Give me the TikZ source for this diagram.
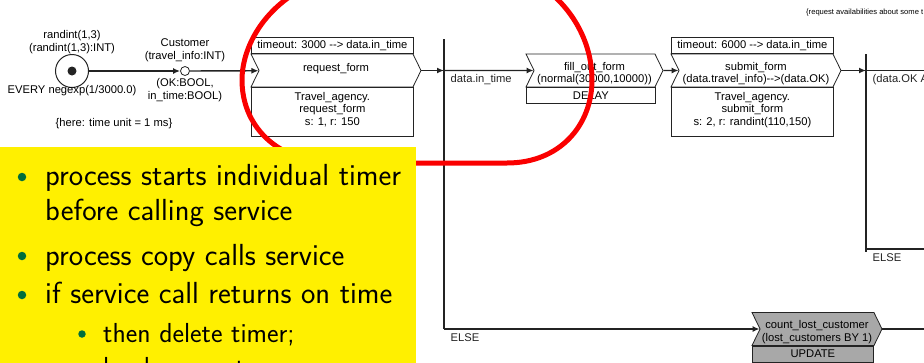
\documentclass[tikz,border=0pt]{standalone}
\usepackage{fontspec}
\newfontfamily\diagfont{Liberation Sans}
\usetikzlibrary{shapes.symbols, arrows.meta, positioning, calc}
\definecolor{mydark}{RGB}{35,35,35}
\definecolor{myred}{RGB}{250,0,0}
\definecolor{myyellow}{RGB}{255,240,0}
\definecolor{mygreen}{RGB}{0,110,60}
\definecolor{mygray}{RGB}{168,168,168}
\newcommand{\topstrut}{\rule{0pt}{14pt}}
\newcommand{\botstrut}{\rule[-6pt]{0pt}{6pt}}
\tikzset{
  lbl/.style={font=\diagfont\fontsize{11.2}{12.5}\selectfont, align=center, inner sep=0pt},
  belowlbl/.style={lbl, anchor=west, pos=0, xshift=6pt, yshift=-9pt},
  chevron/.style={signal, signal from=west, signal to=east, signal pointer angle=128,
    draw=mydark, fill=white, line width=0.8pt, minimum height=33pt, inner sep=0pt, lbl},
  tagbox/.style={rectangle, draw=mydark, fill=white, line width=0.8pt,
    minimum height=16pt, inner sep=0pt, lbl},
  startnode/.style={circle, draw=mydark, fill=white, line width=1pt, minimum size=33pt, inner sep=0pt},
  custnode/.style={circle, draw=mydark, fill=white, line width=0.8pt, minimum size=9pt, inner sep=0pt},
  arrow/.style={-{Latex[length=7pt, width=6pt]}, line width=1.4pt, color=mydark},
  line/.style={line width=1.4pt, color=mydark},
  bar/.style={line width=1.8pt, color=mydark},
  bulletdot/.style={circle, fill=mygreen, inner sep=0pt, minimum size=8.5pt},
  itemtxt/.style={font=\sffamily\fontsize{30.5}{36}\selectfont, anchor=base west, inner sep=0pt},
  subtxt/.style={itemtxt, font=\sffamily\fontsize{27.5}{33}\selectfont}
}
\begin{document}
\begin{tikzpicture}[x=1pt, y=-1pt]
  \useasboundingbox (0,0) rectangle (924,362);
  \clip (0,0) rectangle (924,362);

  % start event and customer
  \node[startnode] (startev) at (72,71) {};
  \fill[mydark] (startev.center) circle (4.5);
  \node[lbl] (startin) at (72,42) {randint(1,3)\\(randint(1,3):INT)};
  \node[lbl] (startevery) at (72,91) {EVERY negexp(1/3000.0)};
  \node[lbl] (unitnote) at (114,124) {\{here: time unit = 1 ms\}};
  \node[custnode] (cust) at (185,71) {};
  \node[lbl] (custin) at (185,50) {Customer\\(travel\_info:INT)};
  \node[lbl] (custout) at (185,90) {(OK:BOOL,\\in\_time:BOOL)};

  % request form
  \node[chevron, minimum width=170pt] (reqform) at (336,70.5) {\topstrut request\_form\\\mbox{}};
  \node[tagbox, minimum width=162pt, anchor=south west] (reqtimeout) at (251,54) {timeout: 3000 -{}-> data.in\_time};
  \node[tagbox, minimum width=162pt, minimum height=49pt, anchor=north west] (reqagency) at (251,87) {Travel\_agency.\\request\_form\\s: 1, r: 150\botstrut};

  % fill out form
  \node[chevron, minimum width=137pt] (fillform) at (594.5,70.5) {\topstrut fill\_out\_form\\(normal(30000,10000))};
  \node[tagbox, minimum width=129pt, anchor=north west] (delay) at (526,87) {DELAY};

  % submit form
  \node[chevron, minimum width=170pt] (subform) at (756,70.5) {\topstrut submit\_form\\(data.travel\_info)-{}->(data.OK)};
  \node[tagbox, minimum width=162pt, anchor=south west] (subtimeout) at (671,54) {timeout: 6000 -{}-> data.in\_time};
  \node[tagbox, minimum width=162pt, minimum height=49pt, anchor=north west] (subagency) at (671,87) {Travel\_agency.\\submit\_form\\s: 2, r: randint(110,150)\botstrut};

  % lost customers
  \node[chevron, fill=mygray, minimum width=130pt] (lost) at (817,329) {\topstrut count\_lost\_customer\\(lost\_customers BY 1)};
  \node[tagbox, fill=mygray, minimum width=121pt, anchor=north west] (update) at (752,345.5) {UPDATE};

  \node[lbl, anchor=west, font=\diagfont\fontsize{7.6}{9}\selectfont] (availnote) at (806,13) {\{request availabilities about some t};

  % branches
  \coordinate (branchatop) at (444,39);
  \coordinate (branchabot) at (444,329);
  \coordinate (branchbtop) at (866,54);
  \coordinate (branchbbot) at (866,252);
  \coordinate (okend) at (930,70.5);
  \coordinate (elseend) at (930,249);
  \coordinate (lostend) at (930,329);

  % Connections
  \draw[arrow] (startev) -- (cust);
  \draw[arrow] (cust) -- (reqform);
  \draw[bar] (branchatop) -- (branchabot);
  \draw[arrow] (reqform) -- (reqform -| branchatop);
  \draw[arrow] (reqform -| branchatop) -- node[belowlbl] {data.in\_time} (fillform);
  \draw[arrow] (fillform) -- (subform);
  \draw[bar] (branchbtop) -- (branchbbot);
  \draw[arrow] (subform) -- (subform -| branchbtop);
  \draw[line] (subform -| branchbtop) -- node[belowlbl] {(data.OK A} (okend);
  \draw[line] (branchbbot |- elseend) -- node[belowlbl] {ELSE} (elseend);
  \draw[arrow] (branchabot) -- node[belowlbl] {ELSE} (lost);
  \draw[line] (lost) -- (lostend);

  % red loop
  \draw[myred, line width=5pt] (322,-20) .. controls (267,0) and (242,45) .. (242,80)
    .. controls (242,125) and (275,160) .. (330,163) -- (507,163)
    .. controls (560,163) and (592,125) .. (592,80)
    .. controls (592,40) and (570,5) .. (540,-15);

  % yellow note
  \fill[myyellow] (0,147) rectangle (416,370);
  \node[bulletdot] (dota) at (22,177) {};
  \node[itemtxt] (itema) at (45,185) {process starts individual timer};
  \node[itemtxt] (itemb) at (45,220) {before calling service};
  \node[bulletdot] (dotb) at (22,256) {};
  \node[itemtxt] (itemc) at (45,265) {process copy calls service};
  \node[bulletdot] (dotc) at (22,295) {};
  \node[itemtxt] (itemd) at (45,303) {if service call returns on time};
  \node[bulletdot, minimum size=7.5pt] (dotd) at (82,334) {};
  \node[subtxt] (iteme) at (103,342) {then delete timer;};
  \node[subtxt] (itemf) at (103,376) {bool var := true;};
\end{tikzpicture}
\end{document}
